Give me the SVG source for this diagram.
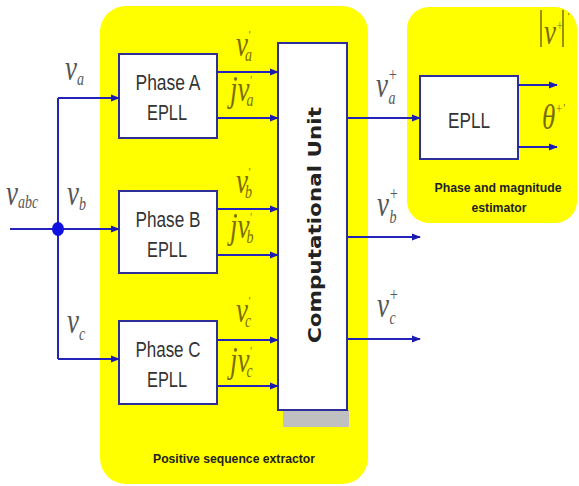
<svg xmlns="http://www.w3.org/2000/svg" width="579" height="486" viewBox="0 0 579 486">
<defs>
<marker id="ah" viewBox="0 0 10 10" refX="9" refY="5" markerWidth="9" markerHeight="9" markerUnits="userSpaceOnUse" orient="auto">
<path d="M0,1 L10,5 L0,9 Z" fill="#1a1ab0"/>
</marker>
<style>
.panel{fill:#ffff00}
.box{fill:#ffffff;stroke:#2e2e9a;stroke-width:2}
.ln{fill:none;stroke:#2424b8;stroke-width:2}
.arr{fill:none;stroke:#2424b8;stroke-width:2;marker-end:url(#ah)}
.lbl{font-family:"Liberation Sans",Arial,sans-serif;font-size:22px;fill:#333;text-anchor:middle}
.bold{font-family:"Liberation Sans",Arial,sans-serif;font-weight:bold;fill:#222;text-anchor:middle}
.m{font-family:"Liberation Serif","Times New Roman",serif;font-style:italic;fill:#7a6d00;font-size:27px}
.mo{font-family:"Liberation Serif","Times New Roman",serif;font-style:italic;fill:#555;font-size:27px}
.s{font-size:14px}
.p{font-size:10px}
</style>
</defs>
<rect width="579" height="486" fill="#ffffff"/>
<g id="extractor">
<rect class="panel" x="100" y="6" width="268" height="478" rx="26"/>
<text class="bold" x="234" y="463" font-size="13" textLength="162" lengthAdjust="spacingAndGlyphs">Positive sequence extractor</text>
</g>
<g id="estimator">
<rect class="panel" x="407" y="7" width="170" height="216" rx="22"/>
<text class="bold" x="498" y="192" font-size="13" textLength="127" lengthAdjust="spacingAndGlyphs">Phase and magnitude</text>
<text class="bold" x="499" y="212" font-size="13" textLength="55" lengthAdjust="spacingAndGlyphs">estimator</text>
</g>
<g id="phaseA">
<rect class="box" x="119" y="54" width="98" height="84"/>
<text class="lbl" x="168" y="90" textLength="65" lengthAdjust="spacingAndGlyphs">Phase A</text>
<text class="lbl" x="167" y="120" textLength="40" lengthAdjust="spacingAndGlyphs">EPLL</text>
</g>
<g id="phaseB">
<rect class="box" x="119" y="191" width="98" height="82"/>
<text class="lbl" x="168" y="227" textLength="65" lengthAdjust="spacingAndGlyphs">Phase B</text>
<text class="lbl" x="167" y="257" textLength="40" lengthAdjust="spacingAndGlyphs">EPLL</text>
</g>
<g id="phaseC">
<rect class="box" x="119" y="321" width="98" height="83"/>
<text class="lbl" x="168" y="357" textLength="65" lengthAdjust="spacingAndGlyphs">Phase C</text>
<text class="lbl" x="167" y="387" textLength="40" lengthAdjust="spacingAndGlyphs">EPLL</text>
</g>
<g id="computational">
<rect x="283" y="410" width="66" height="17" fill="#c0c0c0"/>
<rect class="box" x="278" y="43" width="69" height="367"/>
<text transform="translate(321,225) rotate(-90)" font-family="'DejaVu Sans',Verdana,sans-serif" font-weight="bold" font-size="18" fill="#222" text-anchor="middle" textLength="236" lengthAdjust="spacingAndGlyphs">Computational Unit</text>
</g>
<g id="epll">
<rect class="box" x="420" y="76" width="98" height="83"/>
<text class="lbl" x="469" y="128" textLength="42" lengthAdjust="spacingAndGlyphs">EPLL</text>
</g>
<g id="connectors">
<line class="ln" x1="10" y1="229" x2="58" y2="229"/>
<polyline class="ln" points="58,98 58,359"/>
<line class="arr" x1="58" y1="98" x2="119" y2="98"/>
<line class="arr" x1="58" y1="229" x2="119" y2="229"/>
<line class="arr" x1="58" y1="359" x2="119" y2="359"/>
<ellipse cx="58" cy="229" rx="6" ry="7" fill="#1010e0"/>
<line class="arr" x1="217" y1="72" x2="278" y2="72"/>
<line class="arr" x1="217" y1="118" x2="278" y2="118"/>
<line class="arr" x1="217" y1="209" x2="278" y2="209"/>
<line class="arr" x1="217" y1="255" x2="278" y2="255"/>
<line class="arr" x1="217" y1="340" x2="278" y2="340"/>
<line class="arr" x1="217" y1="386" x2="278" y2="386"/>
<line class="arr" x1="347" y1="118" x2="420" y2="118"/>
<line class="arr" x1="347" y1="237" x2="420" y2="237"/>
<line class="arr" x1="347" y1="339" x2="420" y2="339"/>
<line class="arr" x1="518" y1="85" x2="557" y2="85"/>
<line class="arr" x1="518" y1="147" x2="557" y2="147"/>
</g>
<g id="labels">
<text class="mo" transform="translate(6,205) scale(1,1.3)" font-size="30">v<tspan class="s" dy="2">abc</tspan></text>
<text class="mo" transform="translate(65,80) scale(1,1.3)">v<tspan class="s" dy="4">a</tspan></text>
<text class="mo" transform="translate(67,205) scale(1,1.3)">v<tspan class="s" dy="4">b</tspan></text>
<text class="mo" transform="translate(67,333) scale(1,1.3)">v<tspan class="s" dy="5">c</tspan></text>
<text class="m" transform="translate(236,56) scale(1,1.3)">v<tspan class="p" dy="-13">'</tspan><tspan class="s" dx="-5" dy="17">a</tspan></text>
<text class="m" transform="translate(230,101) scale(1,1.3)">jv<tspan class="p" dy="-13">'</tspan><tspan class="s" dx="-5" dy="17">a</tspan></text>
<text class="m" transform="translate(236,193) scale(1,1.3)">v<tspan class="p" dy="-13">'</tspan><tspan class="s" dx="-5" dy="17">b</tspan></text>
<text class="m" transform="translate(230,238) scale(1,1.3)">jv<tspan class="p" dy="-13">'</tspan><tspan class="s" dx="-5" dy="17">b</tspan></text>
<text class="m" transform="translate(236,322) scale(1,1.3)">v<tspan class="p" dy="-13">'</tspan><tspan class="s" dx="-5" dy="17">c</tspan></text>
<text class="m" transform="translate(230,372) scale(1,1.3)">jv<tspan class="p" dy="-13">'</tspan><tspan class="s" dx="-5" dy="17">c</tspan></text>
<text class="mo" transform="translate(376,97) scale(1,1.3)">v<tspan class="s" dy="-12">+</tspan><tspan class="s" dx="-9" dy="17">a</tspan></text>
<text class="mo" transform="translate(377,216) scale(1,1.3)">v<tspan class="s" dy="-12">+</tspan><tspan class="s" dx="-9" dy="17">b</tspan></text>
<text class="mo" transform="translate(377,317) scale(1,1.3)">v<tspan class="s" dy="-12">+</tspan><tspan class="s" dx="-9" dy="17">c</tspan></text>
<line x1="541" y1="10" x2="541" y2="47" stroke="#7a6d00" stroke-width="1.5"/>
<line x1="563" y1="10" x2="563" y2="47" stroke="#7a6d00" stroke-width="1.5"/>
<text class="m" transform="translate(544,44) scale(1,1.3)" font-size="24">v<tspan font-size="11" dy="-11">+</tspan></text>
<text class="m p" x="567" y="20">'</text>
<text class="m" transform="translate(542,129) scale(1,1.3)" font-size="26">θ<tspan font-size="11" dy="-12">+</tspan><tspan class="p" dy="-1">'</tspan></text>
</g>
</svg>
